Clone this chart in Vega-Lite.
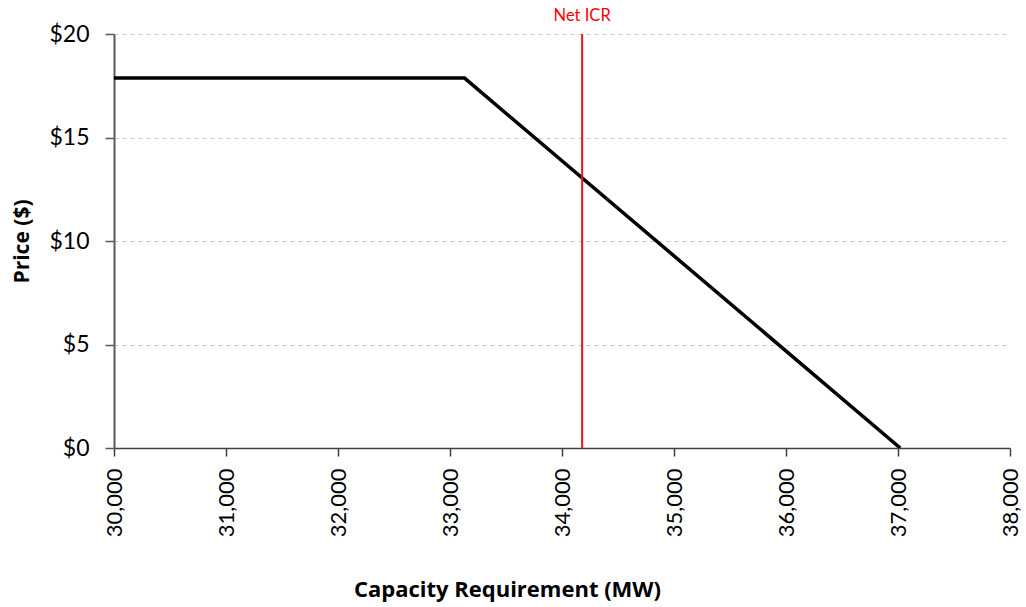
{
  "$schema": "https://vega.github.io/schema/vega-lite/v6.json",
  "width": 896,
  "height": 414,
  "autosize": {"type": "none"},
  "padding": {"left": 114, "top": 34, "right": 16, "bottom": 159},
  "background": "white",
  "config": {"view": {"stroke": null}, "font": "Lato"},
  "datasets": {
    "curve": [
      {"mw": 30000, "price": 17.87},
      {"mw": 33130, "price": 17.87},
      {"mw": 37020, "price": 0}
    ],
    "icr": [
      {"mw": 34180, "price": 0, "label": "Net ICR"},
      {"mw": 34180, "price": 20, "label": "Net ICR"}
    ]
  },
  "layer": [
    {
      "data": {"name": "curve"},
      "mark": {"type": "line", "color": "black", "strokeWidth": 3.5, "strokeJoin": "miter", "clip": true},
      "encoding": {
        "x": {
          "field": "mw", "type": "quantitative",
          "scale": {"domain": [30000, 38000], "nice": false, "zero": false},
          "axis": {
            "title": "Capacity Requirement (MW)",
            "titleFont": "Open Sans", "titleFontSize": 22, "titleFontWeight": "bold", "titleColor": "black",
            "titleX": 393, "titleY": 141, "titleBaseline": "middle", "titleAlign": "center",
            "values": [30000, 31000, 32000, 33000, 34000, 35000, 36000, 37000, 38000],
            "format": ",d",
            "labelAngle": -90, "labelFontSize": 22, "labelColor": "black", "labelPadding": 12,
            "labelFlush": false, "labelOverlap": false,
            "tickSize": 8, "tickColor": "#404040", "tickWidth": 1.5,
            "domainColor": "#404040", "domainWidth": 1.5,
            "grid": false
          }
        },
        "y": {
          "field": "price", "type": "quantitative",
          "scale": {"domain": [0, 20], "nice": false},
          "axis": {
            "title": "Price ($)",
            "titleFont": "Open Sans", "titleFontSize": 21, "titleFontWeight": "bold", "titleColor": "black",
            "titlePadding": 16,
            "values": [0, 5, 10, 15, 20],
            "format": "$d",
            "labelFontSize": 23, "labelColor": "black", "labelPadding": 16,
            "tickSize": 9, "tickColor": "#595959", "tickWidth": 1.5,
            "domainColor": "#595959", "domainWidth": 2,
            "grid": true, "gridColor": "#c8c8c8", "gridDash": [4, 4], "gridWidth": 1
          }
        }
      }
    },
    {
      "data": {"name": "icr"},
      "mark": {"type": "line", "color": "#e8141b", "strokeWidth": 2},
      "encoding": {
        "x": {"field": "mw", "type": "quantitative"},
        "y": {"field": "price", "type": "quantitative"}
      }
    },
    {
      "data": {"name": "icr"},
      "transform": [{"filter": "datum.price == 20"}],
      "mark": {"type": "text", "color": "#ff0000", "fontSize": 16.5, "dy": -18, "baseline": "middle", "align": "center"},
      "encoding": {
        "x": {"field": "mw", "type": "quantitative"},
        "y": {"field": "price", "type": "quantitative"},
        "text": {"field": "label"}
      }
    }
  ]
}
